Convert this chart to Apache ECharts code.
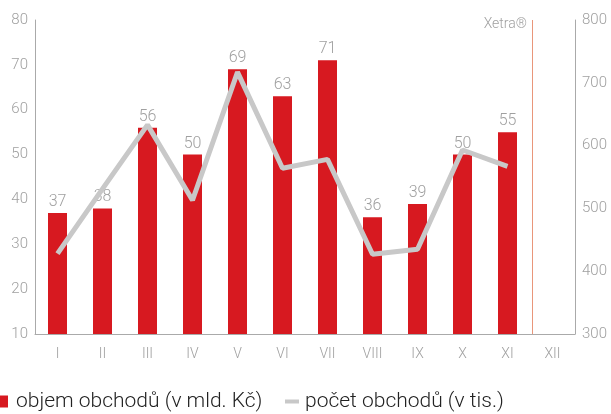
<!DOCTYPE html>
<html><head><meta charset="utf-8">
<script src="https://cdn.jsdelivr.net/npm/echarts@6/dist/echarts.min.js"></script>
<style>html,body{margin:0;padding:0;background:#fff}#c{width:611px;height:414px}</style>
</head><body><div id="c"></div>
<script>
const categories = ['I','II','III','IV','V','VI','VII','VIII','IX','X','XI','XII'];
const volume = [37, 38, 56, 50, 69, 63, 71, 36, 39, 50, 55, null];
const trades = [428, 531, 633, 513, 717, 564, 578, 427, 435, 593, 567, null];
const leftTicks = {min: 10, max: 80, interval: 10};
const rightTicks = {min: 300, max: 800, interval: 100};
const volumeName = 'objem obchodů (v mld. Kč)';
const tradesName = 'počet obchodů (v tis.)';

const FONT = 'Roboto';
const GRAY = '#a0a0a0';
const chart = echarts.init(document.getElementById('c'));
chart.setOption({
  animation: false,
  textStyle: {fontFamily: FONT, fontWeight: 300},
  title: {text: 'Xetra®', right: 84, top: 17, padding: 0,
    textStyle: {fontFamily: FONT, fontWeight: 300, fontSize: 14, color: GRAY}},
  grid: {left: 35, right: 36, top: 20, bottom: 80, containLabel: false},
  legend: [
    {data: [{name: volumeName, icon: 'rect'}], left: -1, top: 391, itemWidth: 9, itemHeight: 12, padding: 0,
      textStyle: {fontFamily: FONT, fontWeight: 300, fontSize: 21, color: '#222', padding: [0,0,0,3]}},
    {data: [{name: tradesName, icon: 'rect'}], left: 285, top: 391, itemWidth: 14, itemHeight: 4, padding: 0,
      textStyle: {fontFamily: FONT, fontWeight: 300, fontSize: 21, color: '#222', padding: [0,0,0,1]}}
  ],
  xAxis: [
    {type: 'category', data: categories, boundaryGap: true,
      axisLine: {lineStyle: {color: '#aaaaaa', width: 1}}, axisTick: {show: false},
      axisLabel: {color: GRAY, fontSize: 14, margin: 13, fontFamily: FONT, fontWeight: 300}},
    {type: 'value', min: 0, max: 12, show: false}
  ],
  yAxis: [
    {type: 'value', min: leftTicks.min, max: leftTicks.max, interval: leftTicks.interval,
      axisLine: {show: true, lineStyle: {color: '#aaaaaa'}}, axisTick: {show: false}, splitLine: {show: false},
      axisLabel: {color: GRAY, fontSize: 15, margin: 7, fontFamily: FONT, fontWeight: 300}},
    {type: 'value', min: rightTicks.min, max: rightTicks.max, interval: rightTicks.interval, position: 'right',
      axisLine: {show: true, lineStyle: {color: '#aaaaaa'}}, axisTick: {show: false}, splitLine: {show: false},
      axisLabel: {color: GRAY, fontSize: 15, margin: 7, fontFamily: FONT, fontWeight: 300}}
  ],
  series: [
    {name: volumeName, type: 'bar', data: volume, barWidth: 19, color: '#d71920',
      label: {show: true, position: 'top', distance: 3, color: GRAY, fontSize: 16, fontFamily: FONT, fontWeight: 300}},
    {name: tradesName, type: 'line', yAxisIndex: 1, data: trades, color: '#c8c8c8',
      symbol: 'none', lineStyle: {width: 5, color: '#c8c8c8'}, z: 3},
    {name: 'xetra', type: 'line', xAxisIndex: 1, yAxisIndex: 0, data: [], silent: true,
      markLine: {silent: true, symbol: 'none', label: {show: false},
        lineStyle: {color: '#e9967a', width: 1, type: 'solid'}, data: [{xAxis: 11.05}]}}
  ]
});
</script></body></html>
